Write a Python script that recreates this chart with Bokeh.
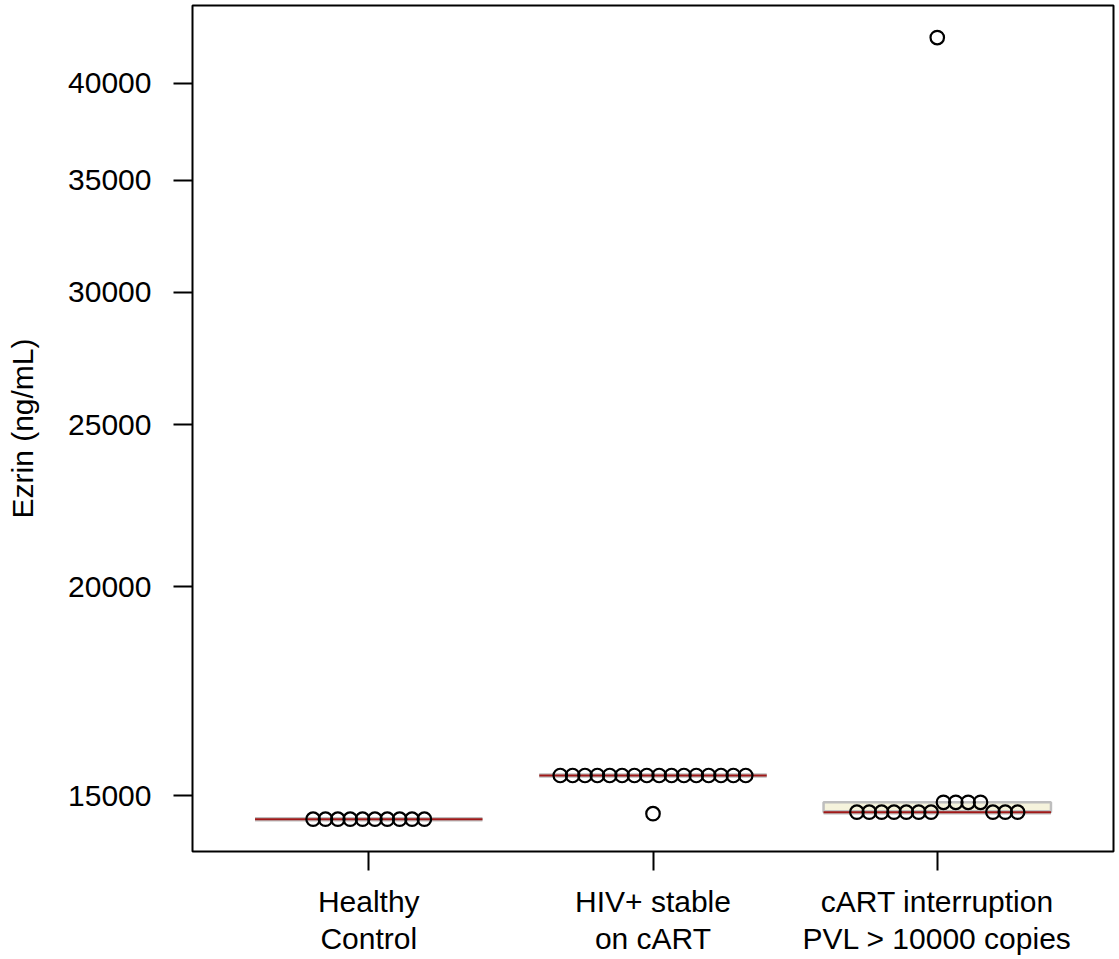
import math
from bokeh.plotting import figure
from bokeh.models import Range1d, FixedTicker, PrintfTickFormatter
from bokeh.embed import file_html
from bokeh.resources import INLINE

# ---- data ----
group_labels = ["Healthy\nControl", "HIV+ stable\non cART", "cART interruption\nPVL > 10000 copies"]
healthy = [14520, 14520, 14520, 14520, 14520, 14520, 14520, 14520, 14520, 14520]
hiv_stable = [15420, 15420, 15420, 15420, 15420, 15420, 15420, 15420,
              15420, 15420, 15420, 15420, 15420, 15420, 15420, 15420, 14630]
cart_interruption = [14660, 14660, 14660, 14660, 14660, 14660, 14660,
                     14860, 14860, 14860, 14860,
                     14660, 14660, 14660, 42610]
y_ticks = [15000, 20000, 25000, 30000, 35000, 40000]
y_title = "Ezrin (ng/mL)"

series = [healthy, hiv_stable, cart_interruption]
positions = [1, 2, 3]

FONT = "Liberation Sans"
FS = "30px"

p = figure(frame_width=921, frame_height=846, output_backend="svg", toolbar_location=None,
           y_axis_type="log", x_range=Range1d(0.38, 3.62), y_range=Range1d(13887, 44537),
           min_border_left=192, min_border_top=5, min_border_right=3, min_border_bottom=104)
p.background_fill_color = "white"
p.border_fill_color = "white"
p.outline_line_color = "black"
p.outline_line_width = 2
p.xgrid.visible = False
p.ygrid.visible = False


def fivenum(vals):
    x = sorted(vals)
    n = len(x)
    n4 = math.floor((n + 3) / 2) / 2
    d = [1, n4, (n + 1) / 2, n + 1 - n4, n]
    return [0.5 * (x[math.floor(k) - 1] + x[math.ceil(k) - 1]) for k in d]


# boxes
BOXW = 0.4
for g, vals in zip(positions, series):
    f = fivenum(vals)
    q1, med, q3 = f[1], f[2], f[3]
    p.quad(left=[g - BOXW], right=[g + BOXW], bottom=[q1], top=[q3],
           fill_color="#F5F3DC", line_color="#BEBEBE", line_width=2.5)
    p.segment(x0=[g - BOXW], x1=[g + BOXW], y0=[med], y1=[med],
              line_color="#BEBEBE", line_width=4.5)
    p.segment(x0=[g - BOXW], x1=[g + BOXW], y0=[med], y1=[med],
              line_color="#A01818", line_width=2)

# beeswarm-like layout: points of similar value share a row, spread sideways
PX_PER_LN = 726.0
ROW_PX = 16.0
SPACING = 0.0435
xs, ys = [], []
for g, vals in zip(positions, series):
    order = sorted(range(len(vals)), key=lambda i: vals[i])
    rows = []
    for i in order:
        if rows and (math.log(vals[i]) - math.log(vals[rows[-1][0]])) * PX_PER_LN <= ROW_PX:
            rows[-1].append(i)
        else:
            rows.append([i])
    for row in rows:
        row = sorted(row)
        n = len(row)
        for k, i in enumerate(row):
            xs.append(g + (k - (n - 1) / 2) * SPACING)
            ys.append(vals[i])

p.scatter(xs, ys, marker="circle", size=13.5, fill_alpha=0, line_color="black", line_width=2.2)

# axes
xa = p.xaxis[0]
xa.ticker = FixedTicker(ticks=positions)
xa.major_label_overrides = {pos: lab for pos, lab in zip(positions, group_labels)}
xa.axis_line_color = None
xa.minor_tick_line_color = None
xa.major_tick_out = 19
xa.major_tick_in = 0
xa.major_tick_line_width = 2
xa.major_tick_line_color = "black"
xa.major_label_standoff = 14
xa.major_label_text_font = FONT
xa.major_label_text_font_size = FS
xa.major_label_text_color = "black"
xa.major_label_text_line_height = 1.15

ya = p.yaxis[0]
ya.ticker = FixedTicker(ticks=y_ticks)
ya.formatter = PrintfTickFormatter(format="%d")
ya.axis_line_color = None
ya.minor_tick_line_color = None
ya.major_tick_out = 19
ya.major_tick_in = 0
ya.major_tick_line_width = 2
ya.major_tick_line_color = "black"
ya.major_label_standoff = 22
ya.major_label_text_font = FONT
ya.major_label_text_font_size = FS
ya.major_label_text_color = "black"
ya.axis_label = y_title
ya.axis_label_text_font = FONT
ya.axis_label_text_font_size = FS
ya.axis_label_text_font_style = "normal"
ya.axis_label_text_color = "black"
ya.axis_label_standoff = 26

open("out.html", "w").write(file_html(p, INLINE))
